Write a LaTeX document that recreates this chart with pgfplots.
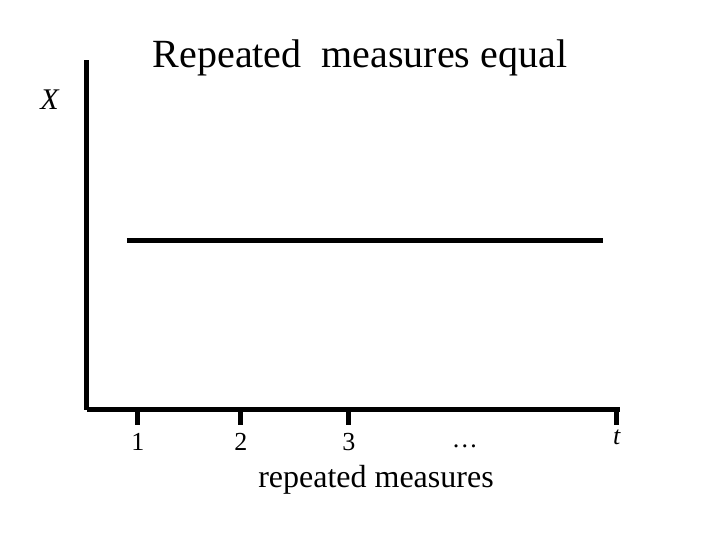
\documentclass[border=0pt]{standalone}
\usepackage{pgfplots}
\pgfplotsset{compat=1.18}
\usepackage{fontspec}
\setmainfont{Liberation Serif}
\begin{document}
\begin{tikzpicture}
\begin{axis}[
  scale only axis, width=266.5pt, height=175pt,
  xmin=87, xmax=620, ymin=0, ymax=350,
  axis lines*=left,
  axis line style={line width=2.5pt, black},
  clip=false,
  xtick={138,241,349,617},
  xticklabels={1,2,3,\raisebox{3pt}{\textit{t}}},
  extra x ticks={465},
  extra x tick labels={\raisebox{1.5pt}{\dots}},
  extra x tick style={tick style={draw=none}},
  ytick=\empty,
  tick align=outside,
  major tick length=7.5pt,
  tick style={line width=2.5pt, black},
  xticklabel style={font=\fontsize{13}{15}\selectfont, text height=9pt, text depth=0pt},
]
\addplot[black, line width=2.5pt] coordinates {(127,169) (603,169)};
\node[font=\fontsize{20}{24}\selectfont] at (axis cs:360,352) {Repeated\hspace{0.5em}measures equal};
\node[font=\fontsize{16}{19}\selectfont] at (axis cs:376,-70) {repeated measures};
\node[font=\fontsize{15}{18}\selectfont] at (axis cs:50,310) {\textit{X}};
\coordinate (bl) at (axis cs:0,-130);
\coordinate (tr) at (axis cs:720,410);
\end{axis}
\pgfresetboundingbox
\path (bl) rectangle (tr);
\end{tikzpicture}
\end{document}
